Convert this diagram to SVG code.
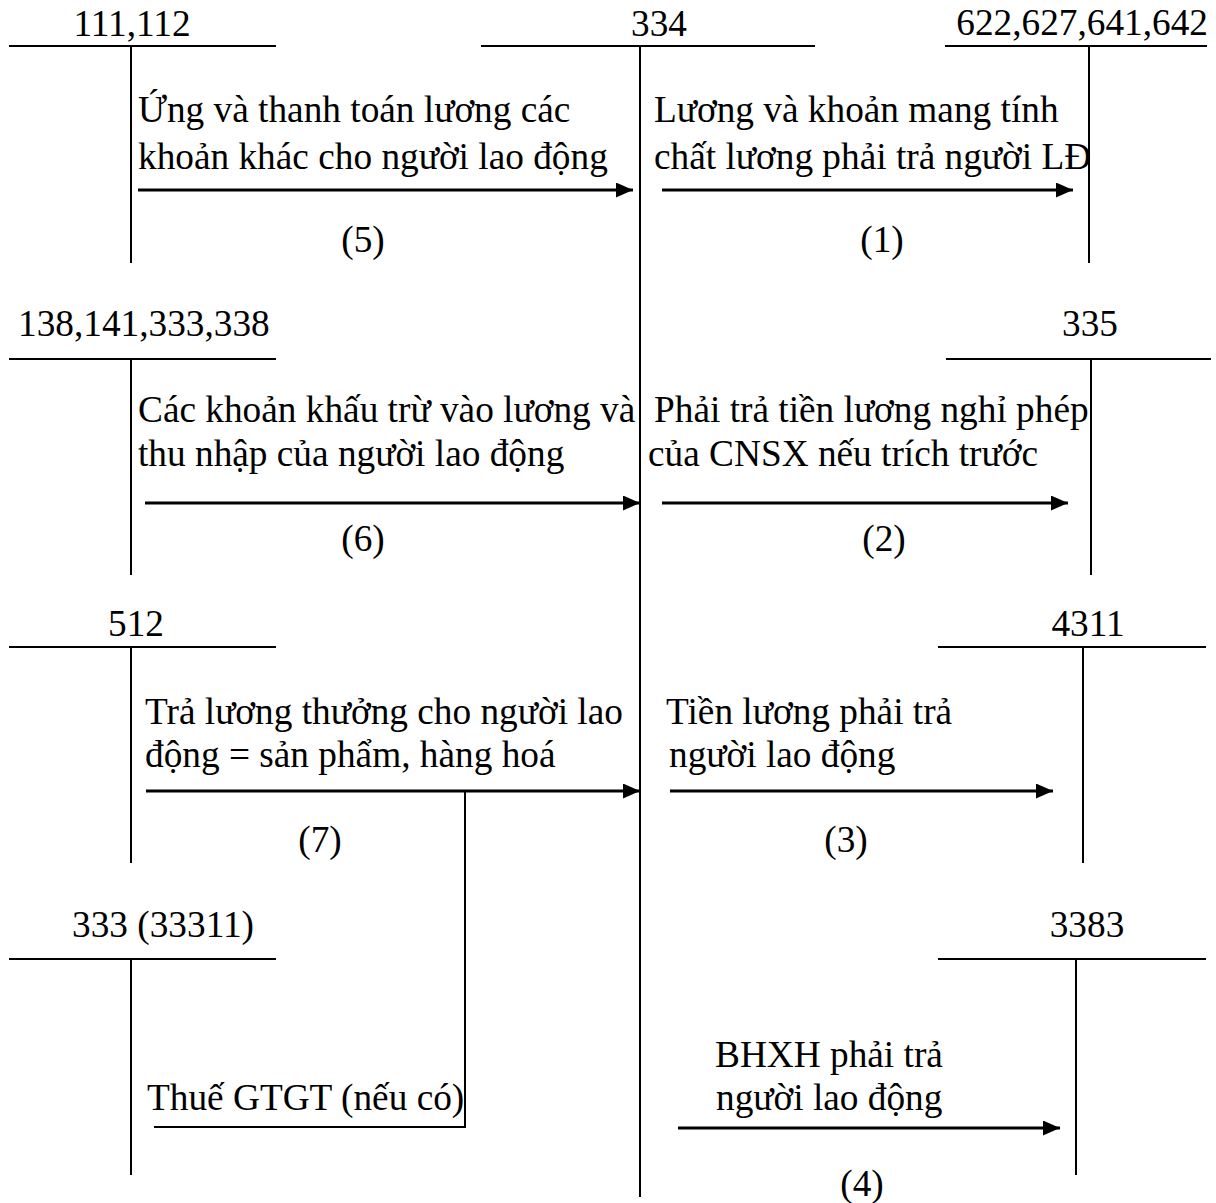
<svg xmlns="http://www.w3.org/2000/svg" width="1216" height="1203" viewBox="0 0 1216 1203">
<style>
text{font-family:"Liberation Serif","Times New Roman",serif;font-size:37.3px;fill:#000}
.m{text-anchor:middle}
.e{text-anchor:end}
.t{stroke:#000;stroke-width:2;fill:none}
.a{stroke:#000;stroke-width:3;fill:none}
</style>
<defs>
<marker id="ah" markerUnits="userSpaceOnUse" markerWidth="17" markerHeight="15" refX="17" refY="7.5" orient="auto">
<path d="M0,0 L17,7.5 L0,15 z" fill="#000"/>
</marker>
</defs>
<rect width="1216" height="1203" fill="#fff"/>
<g id="acc-111-112">
<path class="t" d="M9,46 H276 M131,46 V263"/>
<text class="m" x="132" y="36">111,112</text>
</g>
<g id="acc-334">
<path class="t" d="M481,46 H815 M640,46 V1197"/>
<text class="m" x="659" y="36">334</text>
</g>
<g id="acc-622">
<path class="t" d="M945,46 H1207 M1089,46 V263"/>
<text class="e" x="1208" y="35">622,627,641,642</text>
</g>
<g id="acc-138">
<path class="t" d="M9,359 H276 M131,359 V575"/>
<text x="18" y="336">138,141,333,338</text>
</g>
<g id="acc-335">
<path class="t" d="M946,359 H1211 M1091,359 V575"/>
<text class="m" x="1090" y="336">335</text>
</g>
<g id="acc-512">
<path class="t" d="M9,647 H276 M131,647 V863"/>
<text class="m" x="136" y="636">512</text>
</g>
<g id="acc-4311">
<path class="t" d="M938,647 H1206 M1083,647 V863"/>
<text class="m" x="1088" y="636">4311</text>
</g>
<g id="acc-33311">
<path class="t" d="M9,959 H276 M131,959 V1175"/>
<text x="72" y="937">333 (33311)</text>
</g>
<g id="acc-3383">
<path class="t" d="M938,959 H1206 M1076,959 V1175"/>
<text class="m" x="1087" y="937">3383</text>
</g>
<g id="connectors">
<line class="a" x1="138" y1="190" x2="633" y2="190" marker-end="url(#ah)"/>
<line class="a" x1="662" y1="190" x2="1073" y2="190" marker-end="url(#ah)"/>
<line class="a" x1="145" y1="503" x2="640" y2="503" marker-end="url(#ah)"/>
<line class="a" x1="662" y1="503" x2="1068" y2="503" marker-end="url(#ah)"/>
<line class="a" x1="146" y1="791" x2="640" y2="791" marker-end="url(#ah)"/>
<line class="a" x1="670" y1="791" x2="1053" y2="791" marker-end="url(#ah)"/>
<path class="t" d="M465,791 V1127 H154"/>
<line class="a" x1="678" y1="1128" x2="1060" y2="1128" marker-end="url(#ah)"/>
</g>
<g id="labels">
<text x="138" y="122">Ứng và thanh toán lương các</text>
<text x="138" y="169">khoản khác cho người lao động</text>
<text class="m" x="363" y="252">(5)</text>
<text x="654" y="122">Lương và khoản mang tính</text>
<text x="654" y="169">chất lương phải trả người LĐ</text>
<text class="m" x="882" y="252">(1)</text>
<text x="138" y="422">Các khoản khấu trừ vào lương và</text>
<text x="138" y="466">thu nhập của người lao động</text>
<text class="m" x="363" y="551">(6)</text>
<text x="654" y="422">Phải trả tiền lương nghỉ phép</text>
<text x="648" y="466">của CNSX nếu trích trước</text>
<text class="m" x="884" y="551">(2)</text>
<text x="145" y="724">Trả lương thưởng cho người lao</text>
<text x="145" y="767">động = sản phẩm, hàng hoá</text>
<text class="m" x="320" y="852">(7)</text>
<text x="666" y="724">Tiền lương phải trả</text>
<text x="669" y="767">người lao động</text>
<text class="m" x="846" y="852">(3)</text>
<text x="147" y="1110">Thuế GTGT (nếu có)</text>
<text x="715" y="1067">BHXH phải trả</text>
<text x="716" y="1110">người lao động</text>
<text class="m" x="862" y="1196">(4)</text>
</g>
</svg>
